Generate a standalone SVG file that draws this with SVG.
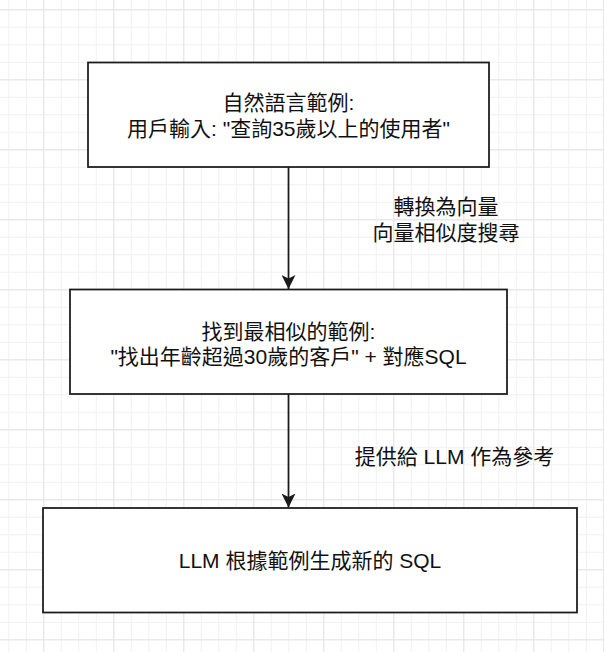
<svg xmlns="http://www.w3.org/2000/svg" width="604" height="652" viewBox="0 0 604 652">
  <style>
    .box { fill: #ffffff; stroke: #1a1a1a; stroke-width: 1.75; }
    .txt { font-family: "Liberation Sans", "Noto Sans CJK TC", sans-serif; font-size: 21px; fill: #111111; text-anchor: middle; }
    .edge { fill: none; stroke: #1a1a1a; stroke-width: 1.75; }
  </style>
  <defs>
    <pattern id="minor" patternUnits="userSpaceOnUse" x="8.3" y="9.3" width="17.5" height="17.5">
      <path d="M0.5,0 V17.5 M0,0.5 H17.5" stroke="#f1f1f1" stroke-width="1" fill="none"/>
    </pattern>
    <pattern id="major" patternUnits="userSpaceOnUse" x="43.3" y="9.3" width="70" height="70">
      <path d="M0.5,0 V70 M0,0.5 H70" stroke="#e4e4e4" stroke-width="1" fill="none"/>
    </pattern>
    <marker id="arrow" viewBox="0 0 14 14" refX="14" refY="7" markerWidth="14" markerHeight="14" markerUnits="userSpaceOnUse" orient="auto">
      <path d="M0,0 L14,7 L0,14 L3.5,7 Z" fill="#1a1a1a"/>
    </marker>
  </defs>
  <rect width="604" height="652" fill="#ffffff"/>
  <rect width="604" height="652" fill="url(#minor)"/>
  <rect width="604" height="652" fill="url(#major)"/>

  <g id="connectors">
    <path class="edge" d="M288.5,167 V289" marker-end="url(#arrow)"/>
    <path class="edge" d="M288.5,394 V507.5" marker-end="url(#arrow)"/>
    <text class="txt" x="446" y="214">轉換為向量</text>
    <text class="txt" x="446" y="239.5">向量相似度搜尋</text>
    <text class="txt" x="454.5" y="463.5">提供給 LLM 作為參考</text>
  </g>

  <g id="node-example">
    <rect class="box" x="88" y="62.5" width="401" height="104.5"/>
    <text class="txt" x="288.5" y="110">自然語言範例:</text>
    <text class="txt" x="288.5" y="135.5">用戶輸入: "查詢35歲以上的使用者"</text>
  </g>

  <g id="node-similar">
    <rect class="box" x="70" y="289.5" width="437" height="104.5"/>
    <text class="txt" x="288.5" y="338.5">找到最相似的範例:</text>
    <text class="txt" x="288.5" y="364">"找出年齡超過30歲的客戶" + 對應SQL</text>
  </g>

  <g id="node-generate">
    <rect class="box" x="43" y="508" width="534" height="104.5"/>
    <text class="txt" x="310" y="568">LLM 根據範例生成新的 SQL</text>
  </g>
</svg>
